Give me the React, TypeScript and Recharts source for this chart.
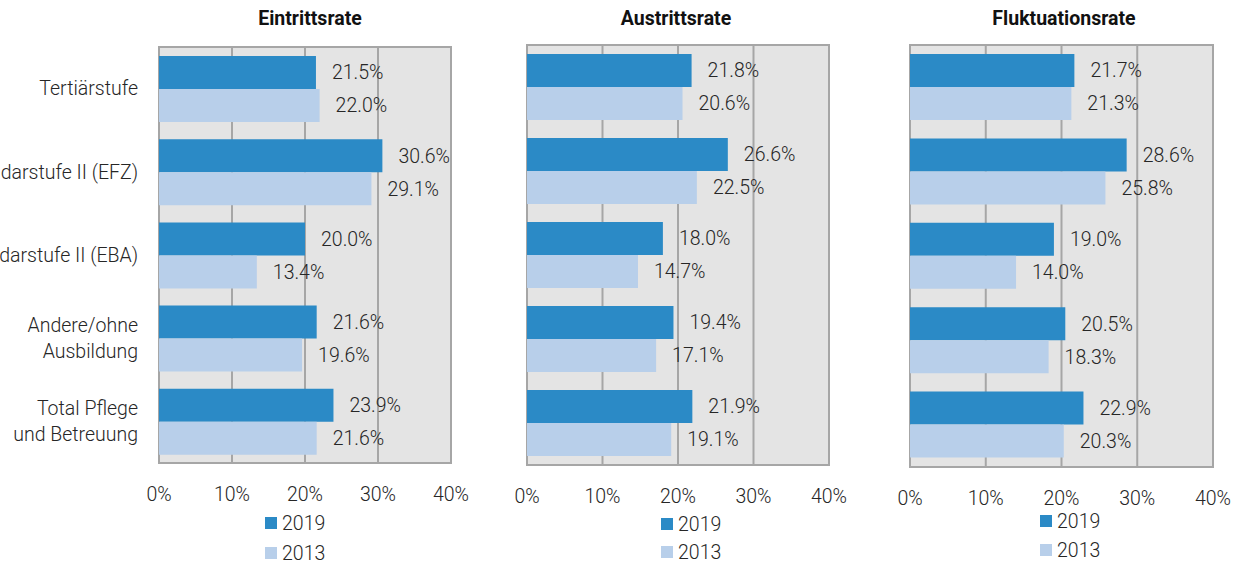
import { BarChart, Bar, XAxis, YAxis, CartesianGrid, ReferenceArea, LabelList } from "recharts";

const categories = [
  "Tertiärstufe",
  "Sekundarstufe II (EFZ)",
  "Sekundarstufe II (EBA)",
  "Andere/ohne\nAusbildung",
  "Total Pflege\nund Betreuung",
];
const eintritt2019 = [21.5, 30.6, 20.0, 21.6, 23.9];
const eintritt2013 = [22.0, 29.1, 13.4, 19.6, 21.6];
const austritt2019 = [21.8, 26.6, 18.0, 19.4, 21.9];
const austritt2013 = [20.6, 22.5, 14.7, 17.1, 19.1];
const fluktuation2019 = [21.7, 28.6, 19.0, 20.5, 22.9];
const fluktuation2013 = [21.3, 25.8, 14.0, 18.3, 20.3];
const xTicks = [0, 10, 20, 30, 40];
const years = ["2019", "2013"];

const C2019 = "#2b8ac6";
const C2013 = "#b8cfea";
const TEXT = "#262626";
const GRID = "#a6a6a6";
const FONT = "Roboto, 'Noto Sans', sans-serif";
const FS = 19.5;

const build = (a: number[], b: number[]) =>
  categories.map((cat, i) => ({ cat, y2019: a[i], y2013: b[i] }));

function CatTick(props: any) {
  const { x, y, payload } = props;
  const lines = String(payload.value).split("\n");
  return (
    <text x={x} y={y} textAnchor="end" fill={TEXT} fontSize={FS} fontWeight={300} fontFamily={FONT}>
      {lines.map((l, i) => (
        <tspan key={i} x={x} y={y + (i - (lines.length - 1) / 2) * 26} dy="0.35em">
          {l}
        </tspan>
      ))}
    </text>
  );
}

const pct = (v: any) => `${Number(v).toFixed(1)}%`;

function Panel({
  a, b, left, width, margin, showCats,
}: {
  a: number[]; b: number[]; left: number; width: number;
  margin: { top: number; right: number; bottom: number; left: number };
  showCats?: boolean;
}) {
  return (
    <div style={{ position: "absolute", left, top: 0, width, height: 563 }}>
      <BarChart width={width} height={563} data={build(a, b)} layout="vertical" margin={margin} barGap={0} barSize={33}>
        <CartesianGrid horizontal={false} stroke={GRID} strokeWidth={2} fill="#e4e4e4" />
        <ReferenceArea x1={0} x2={40} fill="none" stroke={GRID} strokeWidth={2} ifOverflow="visible" />
        <XAxis
          type="number"
          domain={[0, 40]}
          ticks={xTicks}
          tickFormatter={(v) => `${v}%`}
          axisLine={false}
          tickLine={false}
          tickSize={0}
          tickMargin={24}
          height={30}
          tick={{ fill: TEXT, fontSize: FS, fontWeight: 300, fontFamily: FONT }}
        />
        <YAxis
          type="category"
          dataKey="cat"
          hide={!showCats}
          width={showCats ? 159 : 0}
          axisLine={false}
          tickLine={false}
          tickSize={0}
          tickMargin={21}
          interval={0}
          tick={<CatTick />}
        />
        <Bar dataKey="y2019" fill={C2019} isAnimationActive={false}>
          <LabelList dataKey="y2019" position="right" offset={16} formatter={pct}
            style={{ fill: TEXT, fontSize: FS, fontWeight: 300, fontFamily: FONT }} />
        </Bar>
        <Bar dataKey="y2013" fill={C2013} isAnimationActive={false}>
          <LabelList dataKey="y2013" position="right" offset={16} formatter={pct}
            style={{ fill: TEXT, fontSize: FS, fontWeight: 300, fontFamily: FONT }} />
        </Bar>
      </BarChart>
    </div>
  );
}

function Title({ text, center }: { text: string; center: number }) {
  return (
    <div style={{
      position: "absolute", left: center - 150, width: 300, top: 7, textAlign: "center",
      fontFamily: FONT, fontWeight: 700, fontSize: 19.5, color: "#111", lineHeight: "24px",
    }}>{text}</div>
  );
}

function Legend({ left, top, gap }: { left: number; top: number; gap: number }) {
  const colors = [C2019, C2013];
  return (
    <div style={{ position: "absolute", left, top, fontFamily: FONT, fontWeight: 300, fontSize: FS, color: TEXT }}>
      {years.map((y, i) => (
        <div key={y} style={{ position: "absolute", top: i * gap - 12, left: 0, height: 24, display: "flex", alignItems: "center", whiteSpace: "nowrap" }}>
          <span style={{ display: "inline-block", width: 12, height: 12, background: colors[i], marginRight: 5 }} />
          <span>{y}</span>
        </div>
      ))}
    </div>
  );
}

export default function App() {
  return (
    <div style={{ position: "absolute", left: 0, top: 0, width: 1243, height: 563, background: "#fff", overflow: "hidden" }}>
      <Panel a={eintritt2019} b={eintritt2013} left={0} width={470}
        margin={{ top: 47, right: 19, bottom: 70, left: 0 }} showCats />
      <Panel a={austritt2019} b={austritt2013} left={480} width={380}
        margin={{ top: 45, right: 31, bottom: 68, left: 47 }} />
      <Panel a={fluktuation2019} b={fluktuation2013} left={870} width={373}
        margin={{ top: 45, right: 30, bottom: 66, left: 40 }} />
      <Title text="Eintrittsrate" center={310} />
      <Title text="Austrittsrate" center={676} />
      <Title text="Fluktuationsrate" center={1064} />
      <Legend left={265} top={523} gap={30} />
      <Legend left={661} top={524} gap={28} />
      <Legend left={1040} top={521} gap={29} />
    </div>
  );
}
